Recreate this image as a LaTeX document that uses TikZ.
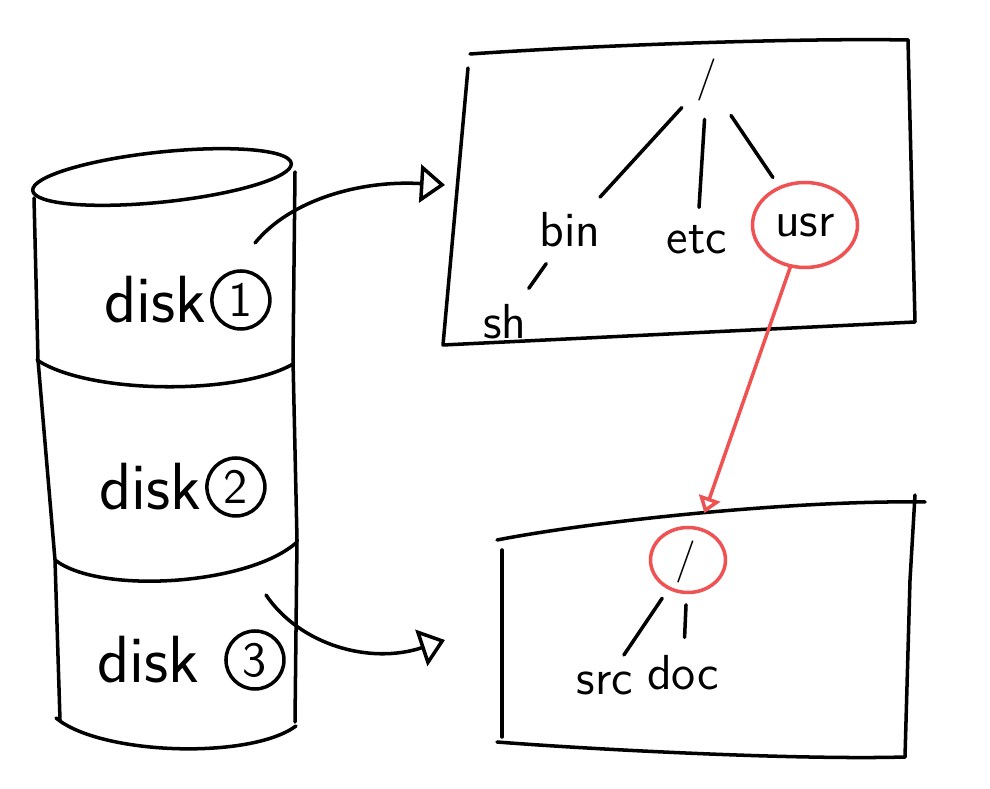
\documentclass[tikz,border=0pt]{standalone}
\usepackage{tikz}
\usetikzlibrary{arrows.meta,positioning,calc,shapes.geometric}
\definecolor{penred}{RGB}{238,82,82}
\tikzset{
  pen/.style={line width=1pt, line cap=round, line join=round},
  redpen/.style={pen, draw=penred},
  disktxt/.style={font=\sffamily\fontsize{19}{21}\selectfont, inner sep=1pt},
  num/.style={circle, draw, line width=1pt, font=\sffamily\fontsize{14}{16}\selectfont, inner sep=0pt, minimum size=5.8mm},
  fname/.style={font=\sffamily\fontsize{14}{16}\selectfont, inner sep=2pt},
  root/.style={font=\sffamily\fontsize{12}{14}\selectfont, inner sep=2pt},
  ring/.style={ellipse, draw=penred, line width=1pt, inner sep=1pt},
  link/.style={pen, shorten >=3pt, shorten <=3pt},
  bigtip/.style={-{Triangle[open, length=2.5mm, width=3.8mm, line width=1pt]}},
  redtip/.style={-{Triangle[open, length=1.6mm, width=2.2mm, line width=1pt]}}
}

\begin{document}
\begin{tikzpicture}
  \useasboundingbox (0,0) rectangle (9.9,-7.89);
  % disk stack
  \draw[pen, rotate around={6:(1.62,-1.77)}] (1.62,-1.77) ellipse [x radius=1.3, y radius=0.25];
  \draw[pen] (0.34,-1.98) -- (0.38,-3.6) -- (0.55,-5.6) -- (0.60,-7.20);
  \draw[pen] (2.95,-1.72) -- (2.93,-3.6) -- (2.97,-5.4) -- (2.95,-7.22);
  \draw[pen] (0.37,-3.60) .. controls (0.9,-3.95) and (2.4,-3.95) .. (2.93,-3.64);
  \draw[pen] (0.55,-5.60) .. controls (1.0,-5.95) and (2.5,-5.85) .. (2.97,-5.42);
  \draw[pen] (0.56,-7.18) .. controls (1.0,-7.55) and (2.5,-7.6) .. (2.96,-7.26);
  \node[disktxt] (d1) at (1.55,-3.00) {disk};
  \node[num, right=0pt of d1] (n1) {1};
  \node[disktxt] (d2) at (1.50,-4.87) {disk};
  \node[num, right=0pt of d2] (n2) {2};
  \node[disktxt] (d3) at (1.48,-6.60) {disk};
  \node[num, right=6pt of d3] (n3) {3};
  % upper file system
  \draw[pen] (4.68,-0.68) -- (4.43,-3.45) -- (9.15,-3.22) -- (9.08,-0.40);
  \draw[pen] (4.70,-0.54) .. controls (6.0,-0.45) and (8.0,-0.38) .. (9.08,-0.40);
  \node[root] (r1) at (7.07,-0.80) {/};
  \node[fname] (bin) at (5.70,-2.30) {bin};
  \node[fname] (etc) at (6.97,-2.40) {etc};
  \node[fname] (usr) at (8.05,-2.25) {usr};
  \node[ring, minimum width=1.05cm, minimum height=0.85cm] (usrring) at (8.05,-2.25) {};
  \node[fname] (sh) at (5.05,-3.22) {sh};
  \draw[link] (r1) -- (bin);
  \draw[link] (r1) -- (etc);
  \draw[link] (r1) -- (usrring);
  \draw[link] (bin) -- (sh);
  % lower file system
  \draw[pen] (4.97,-5.40) .. controls (6.0,-5.2) and (8.0,-5.0) .. (9.25,-5.02);
  \draw[pen] (5.02,-5.50) -- (5.02,-7.37);
  \draw[pen] (9.15,-4.95) -- (9.10,-5.8) -- (9.05,-7.57);
  \draw[pen] (4.97,-7.42) .. controls (6.0,-7.5) and (8.0,-7.6) .. (9.05,-7.57);
  \node[root] (r2) at (6.86,-5.62) {/};
  \node[ring, minimum width=0.75cm, minimum height=0.65cm] (r2ring) at (6.88,-5.60) {};
  \node[fname] (src) at (6.05,-6.83) {src};
  \node[fname] (doc) at (6.83,-6.73) {doc};
  \draw[link] (r2ring) -- (src);
  \draw[link] (r2ring) -- (doc);
  % mounts
  \coordinate (out1) at (2.55,-2.43);
  \coordinate (in1) at (4.45,-1.85);
  \coordinate (out3) at (2.66,-5.95);
  \coordinate (in3) at (4.45,-6.40);
  \draw[pen, bigtip] (out1) .. controls (2.9,-2.0) and (3.6,-1.8) .. (in1);
  \draw[pen, bigtip] (out3) .. controls (3.0,-6.45) and (3.7,-6.65) .. (in3);
  \draw[redpen, redtip, shorten >=1.5mm] (usrring) -- (r2ring);
\end{tikzpicture}
\end{document}
